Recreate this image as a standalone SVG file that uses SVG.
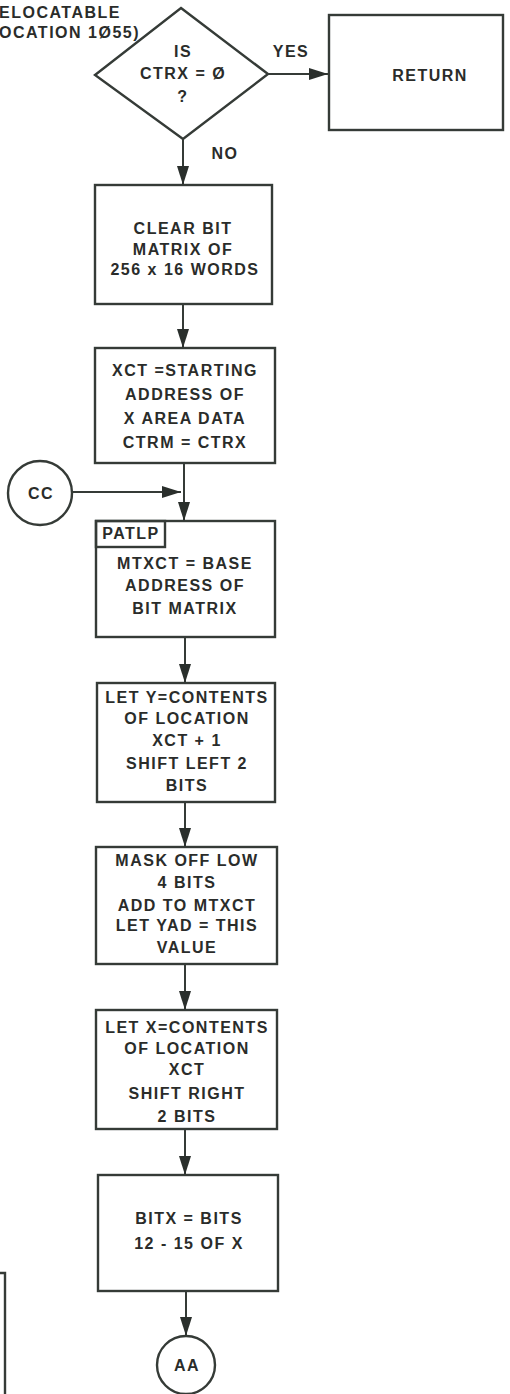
<svg xmlns="http://www.w3.org/2000/svg" width="510" height="1394" viewBox="0 0 510 1394">
<style>
.shape{fill:none;stroke:#353b37;stroke-width:2.4}
.line{fill:none;stroke:#353b37;stroke-width:2}
.t{font-family:"Liberation Sans",Arial,sans-serif;font-weight:bold;font-size:16px;letter-spacing:1.5px;fill:#2a2c2a;text-anchor:middle}
.l{text-anchor:start}
</style>
<defs>
<marker id="ah" markerUnits="userSpaceOnUse" markerWidth="20" markerHeight="13" refX="19" refY="6.5" orient="auto">
<path d="M0,0.5 L19,6.5 L0,12.5 z" fill="#2a2f2c"/>
</marker>
</defs>
<rect width="510" height="1394" fill="#ffffff"/>

<g id="note">
<text class="t l" x="-1" y="18">ELOCATABLE</text>
<text class="t l" x="-1" y="38">OCATION 1Ø55)</text>
</g>

<g id="decision">
<polygon class="shape" points="181,8 268,74 183,139 95,75"/>
<text class="t" x="183" y="57">IS</text>
<text class="t" x="183" y="79">CTRX = Ø</text>
<text class="t" x="183" y="102">?</text>
</g>

<g id="return">
<rect class="shape" x="329" y="15" width="174" height="115"/>
<text class="t" x="430" y="81">RETURN</text>
</g>

<g id="clear">
<rect class="shape" x="95" y="185" width="177" height="119"/>
<text class="t" x="183" y="234">CLEAR BIT</text>
<text class="t" x="183" y="255">MATRIX OF</text>
<text class="t" x="185" y="275">256 x 16 WORDS</text>
</g>

<g id="xct">
<rect class="shape" x="95" y="348" width="180" height="115"/>
<text class="t" x="185" y="376">XCT =STARTING</text>
<text class="t" x="185" y="400">ADDRESS OF</text>
<text class="t" x="185" y="424">X AREA DATA</text>
<text class="t" x="185" y="448">CTRM = CTRX</text>
</g>

<g id="cc">
<circle class="shape" cx="40" cy="493" r="32"/>
<text class="t" x="41" y="499">CC</text>
</g>

<g id="patlp">
<rect class="shape" x="96" y="521" width="179" height="116"/>
<rect class="shape" x="96" y="521" width="69" height="26"/>
<text class="t" x="131" y="539">PATLP</text>
<text class="t" x="185" y="569">MTXCT = BASE</text>
<text class="t" x="185" y="591">ADDRESS OF</text>
<text class="t" x="185" y="614">BIT MATRIX</text>
</g>

<g id="lety">
<rect class="shape" x="97" y="683" width="178" height="119"/>
<text class="t" x="187" y="703">LET Y=CONTENTS</text>
<text class="t" x="187" y="724">OF LOCATION</text>
<text class="t" x="187" y="746">XCT + 1</text>
<text class="t" x="187" y="769">SHIFT LEFT 2</text>
<text class="t" x="187" y="791">BITS</text>
</g>

<g id="mask">
<rect class="shape" x="96" y="847" width="181" height="117"/>
<text class="t" x="187" y="866">MASK OFF LOW</text>
<text class="t" x="187" y="888">4 BITS</text>
<text class="t" x="187" y="911">ADD TO MTXCT</text>
<text class="t" x="187" y="931">LET YAD = THIS</text>
<text class="t" x="187" y="953">VALUE</text>
</g>

<g id="letx">
<rect class="shape" x="96" y="1010" width="181" height="119"/>
<text class="t" x="187" y="1033">LET X=CONTENTS</text>
<text class="t" x="187" y="1054">OF LOCATION</text>
<text class="t" x="187" y="1075">XCT</text>
<text class="t" x="187" y="1099">SHIFT RIGHT</text>
<text class="t" x="187" y="1122">2 BITS</text>
</g>

<g id="bitx">
<rect class="shape" x="98" y="1175" width="180" height="116"/>
<text class="t" x="189" y="1224">BITX = BITS</text>
<text class="t" x="189" y="1249">12 - 15 OF X</text>
</g>

<g id="aa">
<circle class="shape" cx="186" cy="1365" r="29"/>
<text class="t" x="187" y="1371">AA</text>
</g>

<g id="partial">
<path class="shape" d="M0,1273 H5 V1394"/>
</g>

<g id="connectors">
<line class="line" x1="268" y1="74" x2="328" y2="74" marker-end="url(#ah)"/>
<line class="line" x1="183" y1="139" x2="183" y2="185" marker-end="url(#ah)"/>
<line class="line" x1="183" y1="304" x2="183" y2="348" marker-end="url(#ah)"/>
<line class="line" x1="184" y1="463" x2="184" y2="521" marker-end="url(#ah)"/>
<line class="line" x1="72" y1="492" x2="181" y2="492" marker-end="url(#ah)"/>
<line class="line" x1="185" y1="637" x2="185" y2="683" marker-end="url(#ah)"/>
<line class="line" x1="185" y1="802" x2="185" y2="847" marker-end="url(#ah)"/>
<line class="line" x1="185" y1="964" x2="185" y2="1010" marker-end="url(#ah)"/>
<line class="line" x1="185" y1="1129" x2="185" y2="1175" marker-end="url(#ah)"/>
<line class="line" x1="186" y1="1291" x2="186" y2="1336" marker-end="url(#ah)"/>
<text class="t" x="291" y="57">YES</text>
<text class="t" x="225" y="159">NO</text>
</g>
</svg>
